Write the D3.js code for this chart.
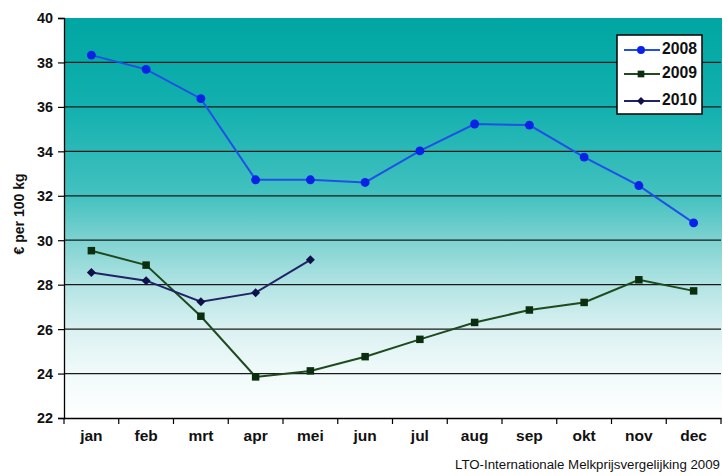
<!DOCTYPE html>
<html><head><meta charset="utf-8">
<script src="https://cdn.jsdelivr.net/npm/d3@7"></script>
<style>
html,body{margin:0;padding:0;background:#fff;}
svg{display:block;}
text{font-family:"Liberation Sans",Arial,sans-serif;}
</style></head>
<body><svg id="c" width="723" height="476"></svg>
<script>
const months = ["jan","feb","mrt","apr","mei","jun","jul","aug","sep","okt","nov","dec"];
const yTicks = [22,24,26,28,30,32,34,36,38,40];
const s2008 = [38.33,37.69,36.37,32.72,32.72,32.6,34.02,35.23,35.18,33.74,32.46,30.78];
const s2009 = [29.53,28.88,26.58,23.85,24.12,24.76,25.54,26.3,26.86,27.2,28.22,27.72];
const s2010 = [28.55,28.18,27.23,27.64,29.12];
const seriesNames = ["2008","2009","2010"];
const footer = "LTO-Internationale Melkprijsvergelijking 2009";
const yTitle = "€ per 100 kg";

const svg = d3.select("#c");
const L=64, R=721, T=18, B=418;
const x = d3.scaleBand().domain(months).range([L,R]);
const y = d3.scaleLinear().domain([22,40]).range([B,T]);

const defs = svg.append("defs");
const g = defs.append("linearGradient").attr("id","bg").attr("x1",0).attr("y1",0).attr("x2",0).attr("y2",1);
[[0,"#00A6A3"],[0.22,"#12B0AE"],[0.45,"#45C2C0"],[0.56,"#80D3D2"],[0.67,"#B3E4E4"],[0.78,"#DBF1F2"],[0.89,"#F1FAFA"],[1,"#FFFFFF"]]
  .forEach(s=>g.append("stop").attr("offset",s[0]).attr("stop-color",s[1]));

svg.append("rect").attr("x",L).attr("y",T).attr("width",R-L+1).attr("height",B-T).attr("fill","url(#bg)");

// gridlines
svg.append("g").selectAll("line").data(yTicks.filter(v=>v>22&&v<40)).join("line")
  .attr("x1",L).attr("x2",R).attr("y1",d=>y(d)).attr("y2",d=>y(d))
  .attr("stroke","#1a1a1a").attr("stroke-width",1.3);

// axes
const yAxis = svg.append("g").attr("transform",`translate(${L},0)`)
  .call(d3.axisLeft(y).tickValues(yTicks).tickSize(6).tickPadding(5));
yAxis.select(".domain").attr("stroke","#000").attr("stroke-width",1.3);
yAxis.selectAll(".tick line").attr("stroke","#000").attr("stroke-width",1.2);
yAxis.selectAll("text").attr("font-size",15.5).attr("font-weight","bold").attr("fill","#111")
  .attr("textLength",16).attr("lengthAdjust","spacingAndGlyphs");

const xAxis = svg.append("g").attr("transform",`translate(0,${B})`)
  .call(d3.axisBottom(x).tickSize(0).tickPadding(12));
xAxis.select(".domain").attr("stroke","#000").attr("stroke-width",1.3);
xAxis.selectAll("text").attr("font-size",15.5).attr("font-weight","bold").attr("fill","#111");
// x tick marks at band boundaries
svg.append("g").selectAll("line").data(months.concat(["__end"])).join("line")
  .attr("x1",(d,i)=>i<months.length?x(d):x(months[months.length-1])+x.bandwidth())
  .attr("x2",(d,i)=>i<months.length?x(d):x(months[months.length-1])+x.bandwidth())
  .attr("y1",B).attr("y2",B+6).attr("stroke","#000").attr("stroke-width",1.2);

// y title
svg.append("text").attr("transform",`translate(20,${(T+B)/2 - 4}) rotate(-90)`)
  .attr("text-anchor","middle").attr("dominant-baseline","middle")
  .attr("font-size",14).attr("font-weight","bold").attr("fill","#111").text(yTitle);

// footer
svg.append("text").attr("x",720).attr("y",469).attr("text-anchor","end")
  .attr("font-size",12.5).attr("fill","#111")
  .attr("textLength",265).attr("lengthAdjust","spacingAndGlyphs").text(footer);

const cx = (d,i)=>x(months[i])+x.bandwidth()/2;
const series = [
  {name:seriesNames[0], data:s2008, line:"#1E52E6", mark:"#0A22E8", shape:d3.symbolCircle, size:62, rot:0},
  {name:seriesNames[1], data:s2009, line:"#1E4A1E", mark:"#0B2E0E", shape:d3.symbolSquare, size:56, rot:0},
  {name:seriesNames[2], data:s2010, line:"#222266", mark:"#10104A", shape:d3.symbolSquare, size:40, rot:45}
];
const lineGen = d3.line().x(cx).y(d=>y(d));
series.forEach(s=>{
  svg.append("path").datum(s.data).attr("d",lineGen).attr("fill","none")
    .attr("stroke",s.line).attr("stroke-width",2);
  svg.append("g").selectAll("path").data(s.data).join("path")
    .attr("transform",(d,i)=>`translate(${cx(d,i)},${y(d)}) rotate(${s.rot})`)
    .attr("d",d3.symbol().type(s.shape).size(s.size)).attr("fill",s.mark);
});

// legend
const lg = svg.append("g");
lg.append("rect").attr("x",617).attr("y",35).attr("width",85).attr("height",79)
  .attr("fill","#fff").attr("stroke","#000").attr("stroke-width",1.5);
const ly = [50,74,101];
series.forEach((s,i)=>{
  lg.append("line").attr("x1",624).attr("x2",660).attr("y1",ly[i]).attr("y2",ly[i])
    .attr("stroke",s.line).attr("stroke-width",2);
  lg.append("path").attr("transform",`translate(641,${ly[i]}) rotate(${s.rot})`)
    .attr("d",d3.symbol().type(s.shape).size(s.size*0.8)).attr("fill",s.mark);
  lg.append("text").attr("x",662).attr("y",ly[i]).attr("dominant-baseline","middle")
    .attr("font-size",16).attr("font-weight","bold").attr("fill","#111")
    .attr("textLength",35).attr("lengthAdjust","spacingAndGlyphs").text(s.name);
});
</script></body></html>
